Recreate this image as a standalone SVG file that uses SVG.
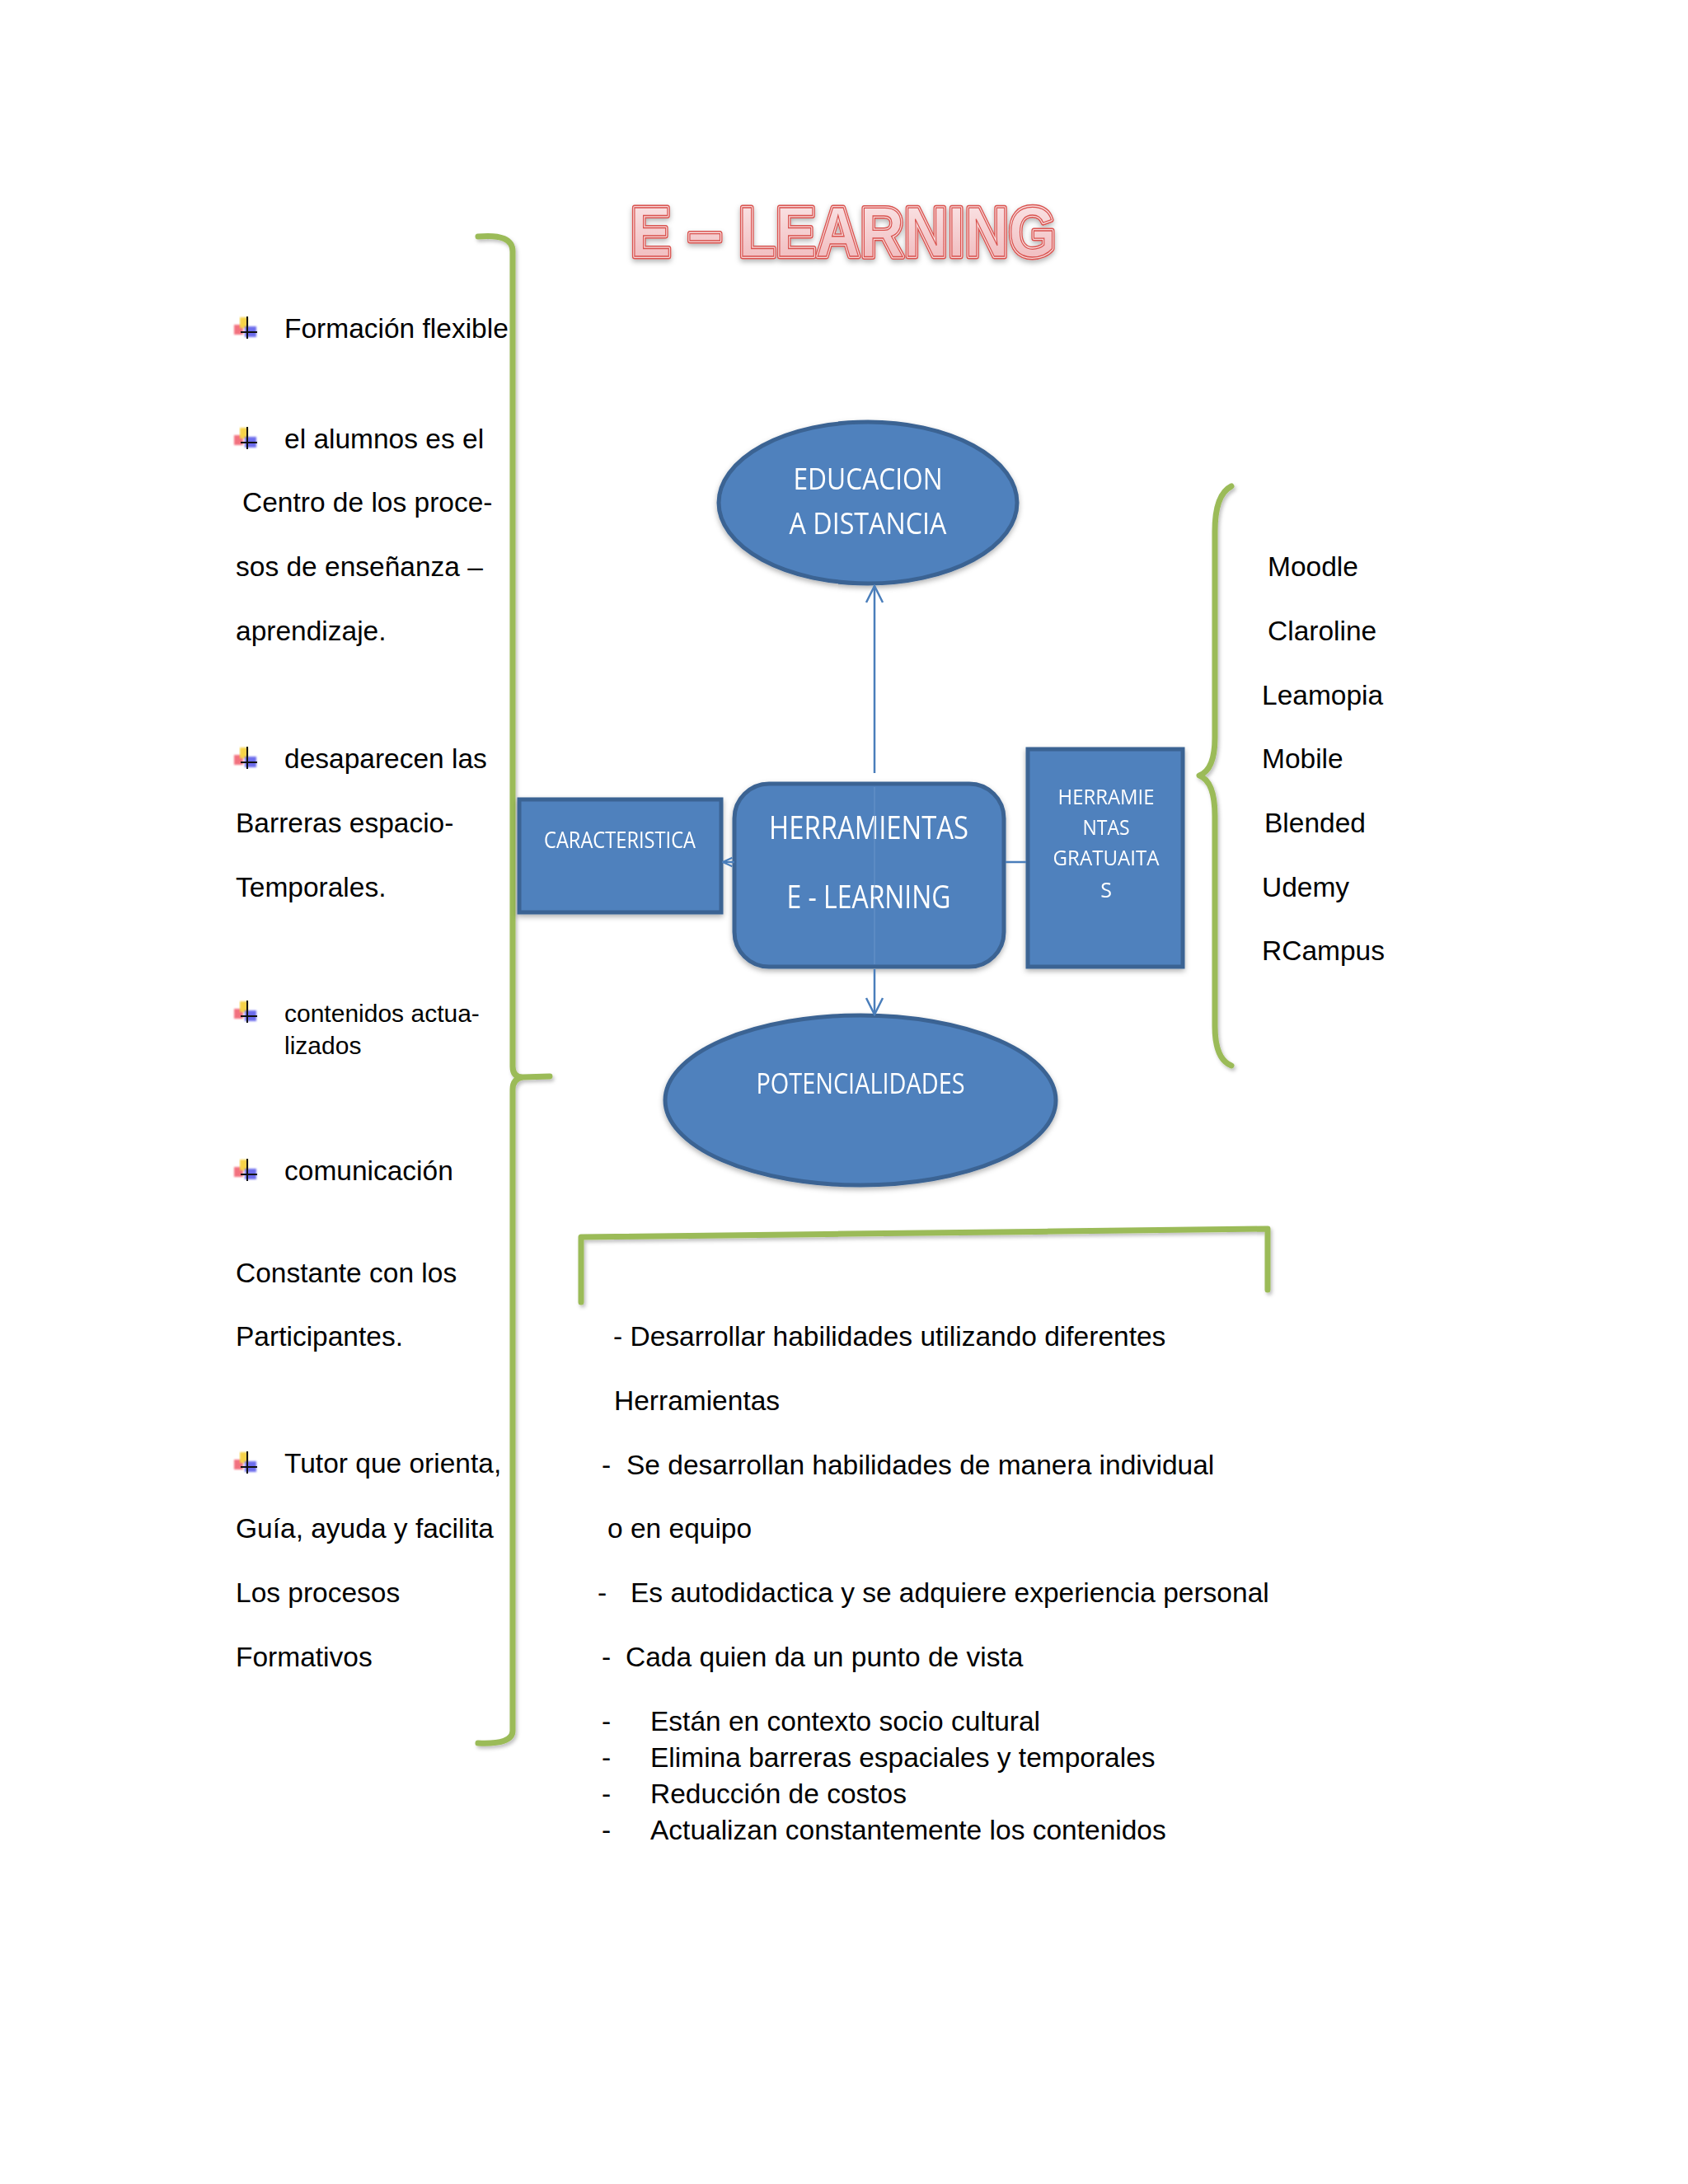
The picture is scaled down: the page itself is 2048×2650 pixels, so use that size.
<svg xmlns="http://www.w3.org/2000/svg" width="2048" height="2650" viewBox="0 0 2048 2650">
<defs>
<style>
.t{font-family:"Liberation Sans",Arial,sans-serif;font-size:33.5px;fill:#000}
.ts{font-family:"Liberation Sans",Arial,sans-serif;font-size:30px;fill:#000}
.nl{font-family:"Open Sans","Noto Sans",sans-serif;fill:#fff;text-anchor:middle}
.node{fill:#4f81bd;stroke:#3b6393;stroke-width:5}
.conn{stroke:#4a7ebb;stroke-width:2.5;fill:none}
.br{stroke:#9bbb59;stroke-width:7;fill:none;stroke-linecap:round;stroke-linejoin:round}
</style>
<linearGradient id="tg" x1="0" y1="0" x2="0" y2="1">
<stop offset="0" stop-color="#fbe9ea"/>
<stop offset="1" stop-color="#efb5b8"/>
</linearGradient>
<filter id="sh" x="-10%" y="-10%" width="120%" height="130%">
<feDropShadow dx="0" dy="3" stdDeviation="3" flood-color="#000" flood-opacity="0.3"/>
</filter>
<filter id="bsh" x="-10%" y="-10%" width="120%" height="120%">
<feDropShadow dx="2" dy="3" stdDeviation="2" flood-color="#000" flood-opacity="0.25"/>
</filter>
<filter id="blur"><feGaussianBlur stdDeviation="1.2"/></filter>
<marker id="arr" viewBox="0 0 24 24" refX="22" refY="12" markerWidth="24" markerHeight="24" markerUnits="userSpaceOnUse" orient="auto">
<path d="M2,2 L22,12 L2,22" fill="none" stroke="#4a7ebb" stroke-width="2.5"/>
</marker>
<marker id="arrs" viewBox="0 0 16 16" refX="15" refY="8" markerWidth="14" markerHeight="14" markerUnits="userSpaceOnUse" orient="auto">
<path d="M2,2 L15,8 L2,14" fill="none" stroke="#4a7ebb" stroke-width="2.5"/>
</marker>
<g id="bul">
<rect x="-16" y="-9" width="11" height="12" fill="#f05060" opacity="0.8" filter="url(#blur)"/>
<rect x="-9" y="-18" width="10" height="13" fill="#f7d34a" filter="url(#blur)"/>
<rect x="-3" y="-7" width="14" height="13" fill="#4a4ae8" opacity="0.8" filter="url(#blur)"/>
<line x1="0" y1="-19" x2="0" y2="8" stroke="#111" stroke-width="2"/>
<line x1="-8" y1="0" x2="12" y2="0" stroke="#111" stroke-width="2"/>
</g>
</defs>
<rect width="2048" height="2650" fill="#fff"/>

<g id="title" font-family="'Liberation Sans',Arial,sans-serif" font-weight="bold" font-size="85" filter="url(#sh)">
<text x="765" y="311" textLength="516" lengthAdjust="spacingAndGlyphs" fill="none" stroke="#d9534f" stroke-width="7" stroke-linejoin="round">E – LEARNING</text>
<text x="765" y="311" textLength="516" lengthAdjust="spacingAndGlyphs" fill="none" stroke="#f8dadb" stroke-width="4" stroke-linejoin="round">E – LEARNING</text>
<text x="765" y="311" textLength="516" lengthAdjust="spacingAndGlyphs" fill="url(#tg)" stroke="#d9534f" stroke-width="1.3">E – LEARNING</text>
</g>

<g id="brackets" filter="url(#bsh)">
<path class="br" d="M580,287 Q622,283 622,305 L622,1294 Q622,1307 634,1307 L667,1306 M634,1307 Q622,1309 622,1322 L622,2100 Q622,2117 580,2115"/>
<path class="br" d="M1494,590 Q1474,600 1474,645 L1474,895 Q1474,934 1455,941 Q1474,948 1474,990 L1474,1245 Q1474,1285 1494,1293"/>
<path class="br" d="M705,1580 L705,1501 L1538,1491 L1538,1565" stroke-linecap="butt"/>
</g>

<g id="left-list">
<use href="#bul" x="300" y="403"/>
<text class="t" x="345" y="410">Formación flexible</text>
<use href="#bul" x="300" y="537"/>
<text class="t" x="345" y="544">el alumnos es el</text>
<text class="t" x="294" y="621">Centro de los proce-</text>
<text class="t" x="286" y="699">sos de enseñanza –</text>
<text class="t" x="286" y="777">aprendizaje.</text>
<use href="#bul" x="300" y="925"/>
<text class="t" x="345" y="932">desaparecen las</text>
<text class="t" x="286" y="1010">Barreras espacio-</text>
<text class="t" x="286" y="1088">Temporales.</text>
<use href="#bul" x="300" y="1233"/>
<text class="ts" x="345" y="1240">contenidos actua-</text>
<text class="ts" x="345" y="1279">lizados</text>
<use href="#bul" x="300" y="1425"/>
<text class="t" x="345" y="1432">comunicación</text>
<text class="t" x="286" y="1556">Constante con los</text>
<text class="t" x="286" y="1633">Participantes.</text>
<use href="#bul" x="300" y="1780"/>
<text class="t" x="345" y="1787">Tutor que orienta,</text>
<text class="t" x="286" y="1866">Guía, ayuda y facilita</text>
<text class="t" x="286" y="1944">Los procesos</text>
<text class="t" x="286" y="2022">Formativos</text>
</g>

<g id="right-list">
<text class="t" x="1538" y="699">Moodle</text>
<text class="t" x="1538" y="777">Claroline</text>
<text class="t" x="1531" y="855">Leamopia</text>
<text class="t" x="1531" y="932">Mobile</text>
<text class="t" x="1534" y="1010">Blended</text>
<text class="t" x="1531" y="1088">Udemy</text>
<text class="t" x="1531" y="1165">RCampus</text>
</g>

<g id="bottom-list">
<text class="t" x="744" y="1633">- Desarrollar habilidades utilizando diferentes</text>
<text class="t" x="745" y="1711">Herramientas</text>
<text class="t" x="730" y="1789">-</text>
<text class="t" x="760" y="1789">Se desarrollan habilidades de manera individual</text>
<text class="t" x="737" y="1866">o en equipo</text>
<text class="t" x="725" y="1944">-</text>
<text class="t" x="765" y="1944">Es autodidactica y se adquiere experiencia personal</text>
<text class="t" x="730" y="2022">-</text>
<text class="t" x="759" y="2022">Cada quien da un punto de vista</text>
<text class="t" x="730" y="2100">-</text>
<text class="t" x="789" y="2100">Están en contexto socio cultural</text>
<text class="t" x="730" y="2144">-</text>
<text class="t" x="789" y="2144">Elimina barreras espaciales y temporales</text>
<text class="t" x="730" y="2188">-</text>
<text class="t" x="789" y="2188">Reducción de costos</text>
<text class="t" x="730" y="2232">-</text>
<text class="t" x="789" y="2232">Actualizan constantemente los contenidos</text>
</g>

<g id="educacion" filter="url(#sh)">
<ellipse class="node" cx="1053" cy="610" rx="181" ry="98"/>
<text class="nl" x="1053" y="594" font-size="37" textLength="181" lengthAdjust="spacingAndGlyphs">EDUCACION</text>
<text class="nl" x="1053" y="648" font-size="37" textLength="191" lengthAdjust="spacingAndGlyphs">A DISTANCIA</text>
</g>

<g id="herramientas" filter="url(#sh)">
<rect class="node" x="891" y="951" width="327" height="222" rx="42"/>
<text class="nl" x="1054" y="1018" font-size="39" textLength="242" lengthAdjust="spacingAndGlyphs">HERRAMIENTAS</text>
<text class="nl" x="1054" y="1102" font-size="39" textLength="199" lengthAdjust="spacingAndGlyphs">E - LEARNING</text>
</g>

<g id="caracteristica" filter="url(#sh)">
<rect class="node" x="630" y="970" width="245" height="137"/>
<text class="nl" x="752" y="1029" font-size="27" textLength="184" lengthAdjust="spacingAndGlyphs">CARACTERISTICA</text>
</g>

<g id="gratuitas" filter="url(#sh)">
<rect class="node" x="1247" y="909" width="188" height="264"/>
<text class="nl" x="1342" y="976" font-size="25" textLength="117" lengthAdjust="spacingAndGlyphs">HERRAMIE</text>
<text class="nl" x="1342" y="1013" font-size="25" textLength="57" lengthAdjust="spacingAndGlyphs">NTAS</text>
<text class="nl" x="1342" y="1050" font-size="25" textLength="129" lengthAdjust="spacingAndGlyphs">GRATUAITA</text>
<text class="nl" x="1342" y="1089" font-size="25">S</text>
</g>

<g id="potencialidades" filter="url(#sh)">
<ellipse class="node" cx="1044" cy="1335" rx="237" ry="103"/>
<text class="nl" x="1044" y="1327" font-size="34" textLength="253" lengthAdjust="spacingAndGlyphs">POTENCIALIDADES</text>
</g>

<g id="connectors">
<line class="conn" x1="1061" y1="938" x2="1061" y2="711" marker-end="url(#arr)"/>
<line class="conn" x1="1061" y1="1176" x2="1061" y2="1231" marker-end="url(#arr)"/>
<line class="conn" x1="891" y1="1046" x2="877" y2="1046" marker-end="url(#arrs)"/>
<line class="conn" x1="1220" y1="1046" x2="1245" y2="1046"/>
<line x1="1061" y1="955" x2="1061" y2="1170" stroke="#6a95c9" stroke-width="2" opacity="0.5"/>
</g>
</svg>
